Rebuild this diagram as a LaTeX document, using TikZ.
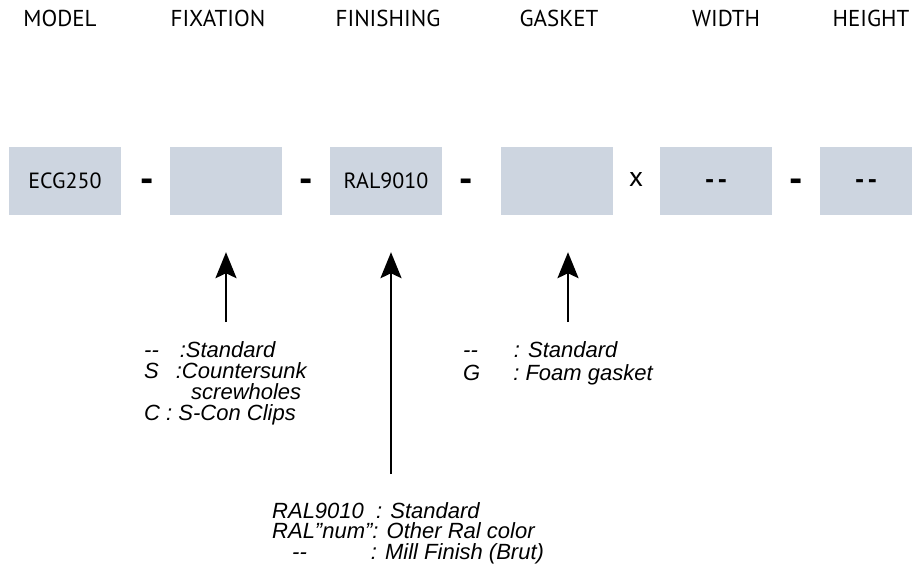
\documentclass[tikz,border=0pt]{standalone}
\usepackage{fontspec}
\setmainfont{PT Sans}
\newfontfamily\notefont{Liberation Sans}
\newfontfamily\barfont{DejaVu Sans}
\usetikzlibrary{arrows.meta}

\definecolor{fieldgrey}{RGB}{205,213,224}

\tikzset{
  heading/.style = {font=\fontsize{23}{26}\selectfont, inner sep=0pt},
  field/.style   = {fill=fieldgrey, minimum width=112pt, minimum height=68pt,
                    inner sep=0pt, font=\fontsize{22}{26}\selectfont},
  joiner/.style  = {anchor=base, inner sep=0pt, font=\barfont\bfseries\fontsize{32}{34}\selectfont},
  blank/.style   = {text height=0pt, text depth=0pt,
                    font=\barfont\bfseries\fontsize{22}{26}\selectfont},
  option/.style  = {anchor=base west, inner sep=0pt, align=left,
                    font=\notefont\itshape\fontsize{22}{21}\selectfont},
  pointer/.style = {-{Stealth[length=26pt, width=21pt, inset=5pt]}, line width=2.6pt}
}

\begin{document}
\begin{tikzpicture}[x=1pt, y=-1pt]
  \useasboundingbox (0,0) rectangle (921,580);

  % headings
  \node[heading] (hmodel)  at (60,18)  {MODEL};
  \node[heading] (hfix)    at (218,18) {FIXATION};
  \node[heading] (hfin)    at (388,18) {FINISHING};
  \node[heading] (hgas)    at (559,18) {GASKET};
  \node[heading] (hwidth)  at (726,18) {WIDTH};
  \node[heading] (hheight) at (871,18) {HEIGHT};

  % code fields
  \node[field] (model)  at (65,181)  {ECG250};
  \node[field] (fix)    at (226,181) {};
  \node[field] (fin)    at (386,181) {RAL9010};
  \node[field] (gas)    at (557,181) {};
  \node[field, blank] (width) at (716,181) {\raisebox{-7pt}{-\,-}};
  \node[field, blank, minimum width=92pt] (height) at (866,181) {\raisebox{-7pt}{-\,-}};

  % joiners between the fields
  \node[joiner] (j1) at (147,191) {-};
  \node[joiner] (j2) at (306,191) {-};
  \node[joiner] (j3) at (466,191) {-};
  \node[heading, font=\fontsize{28}{30}\selectfont] (times) at (636,180) {x};
  \node[joiner] (j4) at (796,191) {-};

  % arrows up to the fields
  \coordinate (fixfoot) at (226,322);
  \coordinate (finfoot) at (391,474);
  \coordinate (gasfoot) at (568,322);
  \draw[pointer, shorten >=37pt] (fixfoot) -- (fixfoot |- fix.south);
  \draw[pointer, shorten >=37pt] (finfoot) -- (finfoot |- fin.south);
  \draw[pointer, shorten >=37pt] (gasfoot) -- (gasfoot |- gas.south);

  % option lists (placed by the baseline of their last line)
  \node[option] (fixopts) at (144,420)
    {-{}-\hspace{21pt}:Standard\\
     S\hspace{17pt}:Countersunk\\
     \hspace*{47pt}screwholes\\
     C : S-Con Clips};
  \node[option, font=\notefont\itshape\fontsize{22}{23}\selectfont] (gasopts) at (463,380)
    {-{}-\hspace{36pt}: Standard\\
     G\hspace{33pt}: Foam gasket};
  \node[option, font=\notefont\itshape\fontsize{22}{20.5}\selectfont] (finopts) at (272,559)
    {RAL9010\ \ : Standard\\
     RAL”num”: Other Ral color\\
     \hspace*{20pt}-{}-\hspace{64pt}: Mill Finish (Brut)};
\end{tikzpicture}
\end{document}
